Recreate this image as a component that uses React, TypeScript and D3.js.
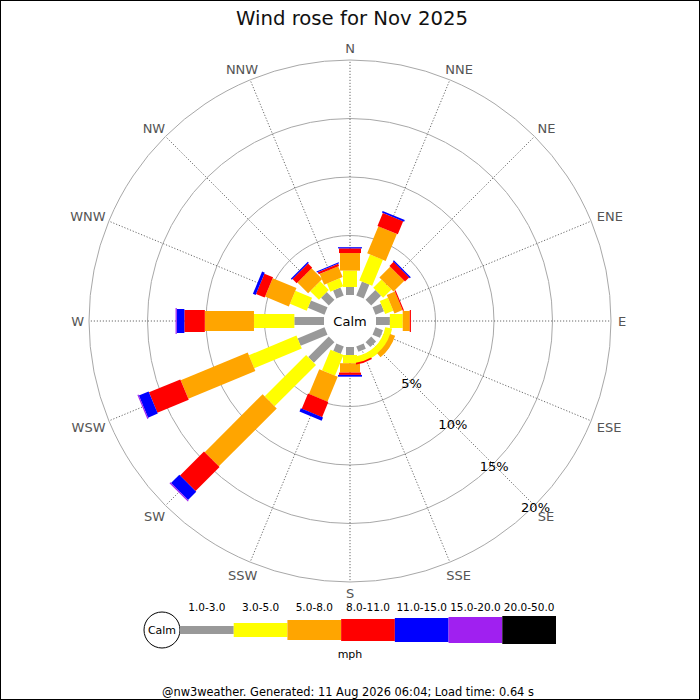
import React from "react";
import * as d3 from "d3";

const directions = ["N","NNE","NE","ENE","E","ESE","SE","SSE","S","SSW","SW","WSW","W","WNW","NW","NNW"];
const rangeLabels = ["1.0-3.0","3.0-5.0","5.0-8.0","8.0-11.0","11.0-15.0","15.0-20.0","20.0-50.0"];
const rangeColors = ["#999999","#ffff00","#ffa500","#ff0000","#0000ff","#a020f0","#000000"];
const rangeWidths = [8,14,20,22,24,26,28];

// percentage per speed range, per direction (N..NNW)
const r1_3 =   [0.6,1.2,1.1,0.7,1.1,0.6,0.5,0.4,0.6,0.6,2.4,2.4,2.45,1.45,0.85,0.65];
const r3_5 =   [1.4,2.4,1.0,0.75,1.1,0,0,0,0.7,1.9,5.0,4.4,3.45,1.55,1.05,0.75];
const r5_8 =   [1.5,2.5,1.3,0.75,0.6,0,0,0,0.8,2.3,7.0,6.2,4.2,2.2,1.3,1.0];
const r8_11 =  [0.4,1.2,0.5,0.1,0.1,0,0,0,0.2,1.4,2.9,2.9,1.75,0.8,0.5,0.2];
const r11_15 = [0.1,0.15,0.12,0,0,0,0,0,0.15,0.3,1.0,0.9,0.65,0.25,0.12,0.1];
const r15_20 = [0,0,0,0,0,0,0,0,0,0,0.1,0.1,0.1,0,0,0];
const r20_50 = [0,0,0,0,0,0,0,0,0,0,0,0,0,0,0,0];
const series = [r1_3,r3_5,r5_8,r8_11,r11_15,r15_20,r20_50];

// curved band drawn by the original renderer between E and S (degrees, percent)
const bandStart = [100,108,150];
const bandEnd = [172,140,172];
const bandInner = [0.75,1.3,1.3];
const bandOuter = [1.35,1.75,1.45];
const bandColor = ["#ffff00","#ffa500","#ff0000"];

const ringTicks = [5,10,15,20];
const unitLabel = "mph";
const title = "Wind rose for Nov 2025";
const footer = "@nw3weather. Generated: 11 Aug 2026 06:04; Load time: 0.64 s";

const W = 700, H = 700;
const cx = 350, cy = 321;
const font = "DejaVu Sans, sans-serif";
const charEm: Record<string, number> = { N: 0.748, E: 0.632, S: 0.635, W: 0.989 };

export default function App() {
  const r = d3.scaleLinear().domain([0, 20]).range([27, 261]);
  const angle = d3.scaleLinear().domain([0, 16]).range([0, 360]);
  const legendX = d3.scaleBand<number>().domain(d3.range(rangeLabels.length)).range([180, 556]);
  const arcGen = d3.arc();

  return (
    <div style={{ position: "fixed", left: 0, top: 0 }}>
      <svg width={W} height={H} style={{ display: "block", background: "#fff" }}>
        <rect x={0.5} y={0.5} width={W - 1} height={H - 1} fill="#fff" stroke="#000" />
        <text x={352} y={25} textAnchor="middle" fontFamily={font} fontSize={19.7} fill="#111">{title}</text>
        <g transform={`translate(${cx},${cy})`}>
          {ringTicks.map((t) => (
            <circle key={t} r={r(t)} fill="none" stroke="#a8a8a8" strokeWidth={1} />
          ))}
          {directions.map((d, i) => {
            const a = (angle(i) * Math.PI) / 180;
            const s = Math.sin(a), c = -Math.cos(a);
            return (
              <line key={d} x1={r(0) * s} y1={r(0) * c} x2={r(20) * s} y2={r(20) * c}
                stroke="#444" strokeWidth={0.8} strokeDasharray="1.2,1.8" />
            );
          })}
          {directions.map((d, i) => {
            const a = (angle(i) * Math.PI) / 180;
            const ux = Math.sin(a), uy = -Math.cos(a);
            const halfW = (d.split("").reduce((acc, ch) => acc + (charEm[ch] || 0.7), 0) * 13) / 2;
            const halfH = 6.5;
            const gap = 5;
            const px = r(20) * ux + ux * (gap + halfW) + (ux > 0.1 ? 2 : 0);
            const py = r(20) * uy + uy * (gap + halfH) + (uy > 0.1 && Math.abs(ux) > 0.1 ? 2.5 : 0);
            return (
              <text key={d} x={px} y={py} textAnchor="middle"
                dominantBaseline="central" fontFamily={font} fontSize={13} fill="#555">{d}</text>
            );
          })}
          {directions.map((d, i) => {
            let acc = 0;
            return (
              <g key={d} transform={`rotate(${angle(i)})`}>
                {series.map((vals, k) => {
                  const v = vals[i];
                  const p0 = acc;
                  acc += v;
                  if (v <= 0) return null;
                  const w = rangeWidths[k];
                  const y0 = r(p0) - (k === 0 ? 1 : 0);
                  const y1 = r(acc);
                  return <rect key={k} x={-w / 2} y={-y1} width={w} height={y1 - y0} fill={rangeColors[k]} />;
                })}
              </g>
            );
          })}
          {bandStart.map((b, j) => (
            <path key={j} fill={bandColor[j]}
              d={arcGen({ innerRadius: r(bandInner[j]), outerRadius: r(bandOuter[j]),
                startAngle: (b * Math.PI) / 180, endAngle: (bandEnd[j] * Math.PI) / 180 }) || ""} />
          ))}
          <circle r={25} fill="#fff" />
          <text x={0} y={0} textAnchor="middle" dominantBaseline="central" fontFamily={font} fontSize={13} fill="#000">Calm</text>
          {ringTicks.map((t) => {
            const a = (135 * Math.PI) / 180;
            return (
              <text key={t} x={r(t) * Math.sin(a) + 1} y={-r(t) * Math.cos(a) + 2} textAnchor="middle"
                dominantBaseline="central" fontFamily={font} fontSize={13} fill="#000">{t}%</text>
            );
          })}
        </g>
        <g>
          <circle cx={162} cy={630} r={18} fill="#fff" stroke="#000" />
          <text x={162} y={630} textAnchor="middle" dominantBaseline="central" fontFamily={font} fontSize={11} fill="#000">Calm</text>
          {rangeLabels.map((lab, k) => {
            const x = legendX(k) as number;
            const bw = legendX.bandwidth();
            const h = rangeWidths[k];
            return (
              <g key={lab}>
                <rect x={x} y={630 - h / 2} width={bw} height={h} fill={rangeColors[k]} />
                <text x={x + bw / 2} y={607} textAnchor="middle" dominantBaseline="central"
                  fontFamily={font} fontSize={10.5} fill="#000">{lab}</text>
              </g>
            );
          })}
          <text x={350} y={654} textAnchor="middle" dominantBaseline="central" fontFamily={font} fontSize={11} fill="#000">{unitLabel}</text>
          <text x={348} y={692} textAnchor="middle" dominantBaseline="central" fontFamily={font} fontSize={11.4} fill="#000">{footer}</text>
        </g>
      </svg>
    </div>
  );
}
